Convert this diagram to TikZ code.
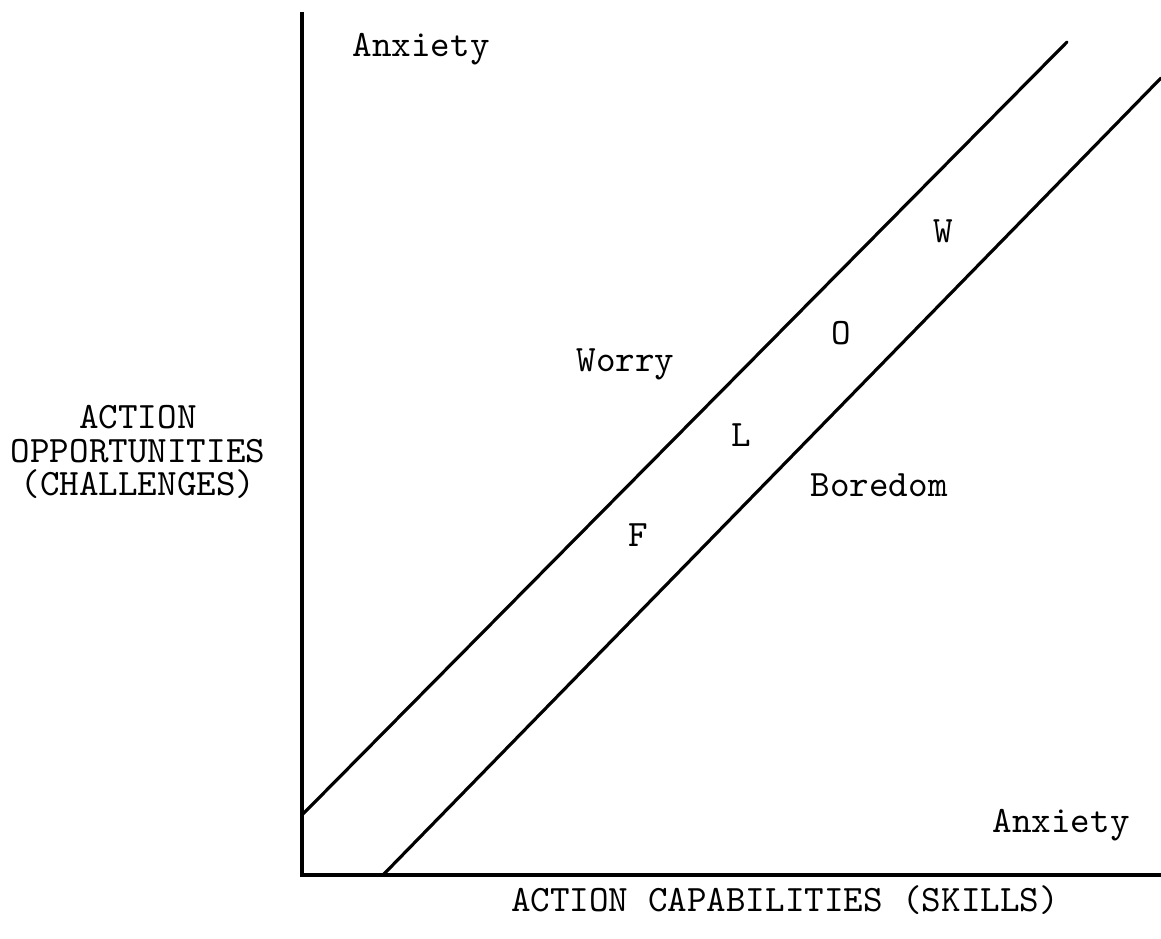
\documentclass[tikz,border=0pt]{standalone}
\usepackage{fontspec}
\usepackage{tikz}
\usetikzlibrary{positioning}

\begin{document}
\begin{tikzpicture}[font=\ttfamily\fontsize{10.6}{9.5}\selectfont,
  lbl/.style={inner sep=0pt},
  axis/.style={line width=1.1pt},
  band/.style={line width=0.9pt, line cap=round}]
  \useasboundingbox (-3.02,-0.64) rectangle (8.59,8.75);
  % axes
  \coordinate (origin) at (0,0);
  \coordinate (ytop) at (0,8.63);
  \coordinate (xend) at (8.59,0);
  \draw[axis] (ytop) -- (origin) -- (xend);
  % flow channel
  \coordinate (upA) at (0,0.60);
  \coordinate (upB) at (7.65,8.33);
  \coordinate (loA) at (0.81,0);
  \coordinate (loB) at (8.59,7.97);
  \draw[band] (upA) -- (upB);
  \draw[band] (loA) -- (loB);
  % region labels
  \node[lbl, anchor=base west] (anxtop) at (0.50,8.18) {Anxiety};
  \node[lbl, anchor=base west] (worry) at (2.74,5.03) {Worry};
  \node[lbl, anchor=base west] (boredom) at (5.08,3.78) {Boredom};
  \node[lbl, anchor=base west] (anxbot) at (6.90,0.42) {Anxiety};
  % F L O W
  \node[lbl, anchor=base] (fF) at (3.36,3.28) {F};
  \node[lbl, anchor=base] (fL) at (4.39,4.28) {L};
  \node[lbl, anchor=base] (fO) at (5.39,5.30) {O};
  \node[lbl, anchor=base] (fW) at (6.41,6.32) {W};
  % axis titles
  \node[lbl, align=center] (ylabel) at (-1.64,4.23) {ACTION\\OPPORTUNITIES\\(CHALLENGES)};
  \node[lbl, anchor=base] (xlabel) at (4.83,-0.37) {ACTION CAPABILITIES (SKILLS)};
\end{tikzpicture}
\end{document}
